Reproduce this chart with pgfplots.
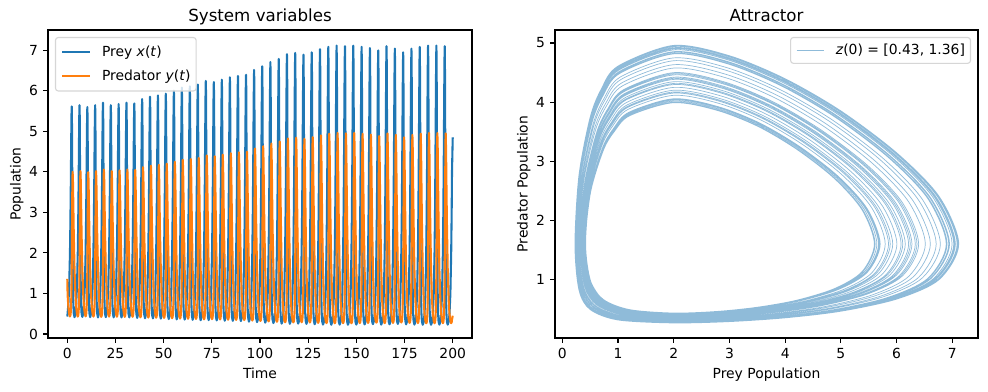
\documentclass[border=0pt]{standalone}
\usepackage{fontspec}
\setmainfont{DejaVu Sans}
\usepackage{pgfplots}
\usepackage{pgfplotstable}
\pgfplotsset{compat=1.18}
\definecolor{cA}{RGB}{31,119,180}
\definecolor{cB}{RGB}{255,127,14}
\definecolor{cL}{RGB}{143,187,217}
\definecolor{lgedge}{RGB}{214,214,214}
\pgfplotstableread{
t x y
0 0.43 1.36
0.18 0.508 0.969
0.58 0.738 0.658
1.01 1.208 0.488
1.40 2 0.431
1.63 2.782 0.458
1.80 3.515 0.530
1.94 4.218 0.648
2.07 4.896 0.844
2.19 5.391 1.129
2.30 5.615 1.6
2.40 5.391 2.182
2.48 4.891 2.714
2.55 4.218 3.206
2.62 3.515 3.598
2.69 2.782 3.869
2.78 2 4.0
2.94 1.208 3.778
3.03 0.938 3.517
3.14 0.738 3.195
3.37 0.508 2.483
3.76 0.414 1.6
4.23 0.504 0.966
4.63 0.733 0.655
5.06 1.204 0.485
5.45 2 0.428
5.68 2.787 0.455
5.85 3.525 0.527
5.99 4.234 0.644
6.12 4.918 0.841
6.24 5.418 1.126
6.35 5.645 1.6
6.45 5.418 2.187
6.53 4.914 2.723
6.60 4.234 3.219
6.67 3.525 3.614
6.74 2.787 3.887
6.83 2 4.019
6.99 1.204 3.795
7.08 0.933 3.531
7.19 0.733 3.206
7.42 0.504 2.488
7.82 0.42 1.6
8.29 0.51 0.97
8.69 0.74 0.66
9.12 1.21 0.49
9.51 2 0.433
9.74 2.78 0.46
9.91 3.51 0.532
10.05 4.21 0.65
10.18 4.885 0.846
10.30 5.377 1.13
10.41 5.6 1.6
10.51 5.377 2.18
10.59 4.88 2.71
10.66 4.21 3.20
10.73 3.51 3.59
10.80 2.78 3.86
10.89 2 3.99
11.05 1.21 3.77
11.14 0.94 3.51
11.25 0.74 3.19
11.48 0.51 2.48
11.87 0.414 1.6
12.34 0.504 0.966
12.74 0.733 0.655
13.17 1.204 0.485
13.56 2 0.428
13.79 2.787 0.455
13.96 3.525 0.527
14.10 4.234 0.644
14.23 4.918 0.841
14.35 5.418 1.126
14.46 5.645 1.6
14.56 5.418 2.187
14.64 4.914 2.723
14.71 4.234 3.219
14.78 3.525 3.614
14.85 2.787 3.887
14.94 2 4.019
15.10 1.204 3.795
15.19 0.933 3.531
15.30 0.733 3.206
15.53 0.504 2.488
15.93 0.407 1.6
16.40 0.495 0.960
16.80 0.723 0.648
17.23 1.195 0.478
17.62 2 0.421
17.85 2.795 0.448
18.02 3.544 0.519
18.16 4.265 0.637
18.29 4.963 0.834
18.41 5.473 1.121
18.52 5.705 1.6
18.62 5.473 2.195
18.70 4.958 2.739
18.77 4.265 3.245
18.84 3.544 3.646
18.91 2.795 3.924
19.00 2 4.057
19.16 1.195 3.828
19.25 0.923 3.559
19.36 0.723 3.228
19.59 0.495 2.499
20.00 0.414 1.6
20.47 0.504 0.966
20.87 0.733 0.655
21.30 1.204 0.485
21.69 2 0.428
21.92 2.787 0.455
22.09 3.525 0.527
22.23 4.234 0.644
22.36 4.918 0.841
22.48 5.418 1.126
22.59 5.645 1.6
22.69 5.418 2.187
22.77 4.914 2.723
22.84 4.234 3.219
22.91 3.525 3.614
22.98 2.787 3.887
23.07 2 4.019
23.23 1.204 3.795
23.32 0.933 3.531
23.43 0.733 3.206
23.66 0.504 2.488
24.06 0.410 1.6
24.53 0.50 0.963
24.93 0.728 0.652
25.36 1.20 0.481
25.75 2 0.425
25.98 2.791 0.451
26.15 3.535 0.523
26.29 4.25 0.641
26.42 4.941 0.837
26.54 5.446 1.124
26.65 5.675 1.6
26.75 5.446 2.191
26.83 4.936 2.731
26.90 4.25 3.232
26.97 3.535 3.630
27.04 2.791 3.906
27.13 2 4.038
27.29 1.20 3.812
27.38 0.928 3.545
27.49 0.728 3.217
27.72 0.50 2.494
28.12 0.407 1.6
28.59 0.495 0.960
28.99 0.723 0.648
29.42 1.195 0.478
29.81 2 0.421
30.04 2.795 0.448
30.21 3.544 0.519
30.35 4.265 0.637
30.48 4.963 0.834
30.60 5.473 1.121
30.71 5.705 1.6
30.81 5.473 2.195
30.89 4.958 2.739
30.96 4.265 3.245
31.03 3.544 3.646
31.10 2.795 3.924
31.19 2 4.057
31.35 1.195 3.828
31.44 0.923 3.559
31.55 0.723 3.228
31.78 0.495 2.499
32.19 0.409 1.6
32.66 0.497 0.962
33.06 0.726 0.650
33.49 1.197 0.480
33.88 2 0.423
34.11 2.793 0.450
34.28 3.539 0.521
34.42 4.257 0.639
34.55 4.952 0.836
34.67 5.459 1.122
34.78 5.69 1.6
34.88 5.459 2.193
34.96 4.947 2.735
35.03 4.257 3.238
35.10 3.539 3.638
35.17 2.793 3.915
35.26 2 4.048
35.42 1.197 3.820
35.51 0.926 3.552
35.62 0.726 3.222
35.85 0.497 2.496
36.26 0.395 1.6
36.73 0.483 0.952
37.13 0.709 0.639
37.56 1.183 0.468
37.95 2 0.411
38.18 2.809 0.438
38.35 3.574 0.509
38.49 4.313 0.626
38.62 5.030 0.824
38.74 5.555 1.113
38.85 5.795 1.6
38.95 5.555 2.209
39.03 5.026 2.765
39.10 4.313 3.283
39.17 3.574 3.693
39.24 2.809 3.979
39.33 2 4.115
39.49 1.183 3.878
39.58 0.909 3.601
39.69 0.709 3.260
39.92 0.483 2.515
40.34 0.388 1.6
40.81 0.474 0.946
41.21 0.699 0.632
41.64 1.174 0.461
42.03 2 0.405
42.26 2.817 0.431
42.43 3.593 0.502
42.57 4.344 0.619
42.70 5.075 0.817
42.82 5.610 1.108
42.93 5.855 1.6
43.03 5.610 2.217
43.11 5.070 2.781
43.18 4.344 3.309
43.25 3.593 3.725
43.32 2.817 4.016
43.41 2 4.153
43.57 1.174 3.911
43.66 0.899 3.629
43.77 0.699 3.282
44.00 0.474 2.526
44.44 0.384 1.6
44.91 0.470 0.943
45.31 0.694 0.629
45.74 1.170 0.457
46.13 2 0.401
46.36 2.822 0.428
46.53 3.603 0.498
46.67 4.36 0.615
46.80 5.097 0.813
46.92 5.638 1.105
47.03 5.885 1.6
47.13 5.638 2.222
47.21 5.093 2.790
47.28 4.36 3.322
47.35 3.603 3.741
47.42 2.822 4.034
47.51 2 4.172
47.67 1.170 3.928
47.76 0.894 3.643
47.87 0.694 3.293
48.10 0.470 2.531
48.54 0.378 1.6
49.01 0.464 0.939
49.41 0.687 0.624
49.84 1.164 0.452
50.23 2 0.396
50.46 2.828 0.422
50.63 3.618 0.493
50.77 4.384 0.610
50.90 5.130 0.808
51.02 5.679 1.101
51.13 5.93 1.6
51.23 5.679 2.228
51.31 5.126 2.802
51.38 4.384 3.341
51.45 3.618 3.765
51.52 2.828 4.061
51.61 2 4.201
51.77 1.164 3.953
51.86 0.887 3.664
51.97 0.687 3.309
52.20 0.464 2.539
52.65 0.368 1.6
53.14 0.453 0.932
53.55 0.675 0.615
53.99 1.153 0.443
54.40 2 0.388
54.64 2.839 0.414
54.81 3.642 0.484
54.95 4.423 0.600
55.09 5.186 0.799
55.21 5.748 1.095
55.33 6.005 1.6
55.43 5.748 2.239
55.51 5.182 2.823
55.58 4.423 3.373
55.65 3.642 3.805
55.73 2.839 4.107
55.82 2 4.249
55.99 1.153 3.994
56.09 0.875 3.699
56.20 0.675 3.336
56.44 0.453 2.553
56.77 0.359 1.6
57.26 0.443 0.925
57.67 0.663 0.607
58.11 1.143 0.435
58.52 2 0.380
58.76 2.850 0.405
58.93 3.667 0.475
59.07 4.463 0.591
59.21 5.242 0.791
59.33 5.816 1.088
59.45 6.08 1.6
59.55 5.816 2.250
59.63 5.238 2.844
59.70 4.463 3.405
59.77 3.667 3.844
59.85 2.850 4.153
59.94 2 4.297
60.11 1.143 4.036
60.21 0.863 3.734
60.32 0.663 3.363
60.56 0.443 2.566
60.91 0.355 1.6
61.40 0.439 0.922
61.81 0.658 0.604
62.25 1.139 0.431
62.66 2 0.376
62.90 2.855 0.402
63.07 3.677 0.471
63.21 4.479 0.587
63.35 5.264 0.787
63.47 5.844 1.086
63.59 6.11 1.6
63.69 5.844 2.255
63.77 5.261 2.853
63.84 4.479 3.418
63.91 3.677 3.860
63.99 2.855 4.171
64.08 2 4.316
64.25 1.139 4.052
64.35 0.858 3.748
64.46 0.658 3.374
64.70 0.439 2.572
65.05 0.349 1.6
65.54 0.432 0.918
65.95 0.651 0.599
66.39 1.132 0.426
66.80 2 0.371
67.04 2.861 0.397
67.21 3.691 0.466
67.35 4.502 0.582
67.49 5.298 0.782
67.61 5.885 1.082
67.73 6.155 1.6
67.83 5.885 2.261
67.91 5.294 2.865
67.98 4.502 3.437
68.05 3.691 3.884
68.13 2.861 4.199
68.22 2 4.345
68.39 1.132 4.077
68.49 0.851 3.769
68.60 0.651 3.390
68.84 0.432 2.580
69.20 0.338 1.6
69.69 0.420 0.910
70.10 0.637 0.589
70.54 1.120 0.416
70.95 2 0.361
71.19 2.875 0.386
71.36 3.721 0.455
71.50 4.550 0.571
71.64 5.364 0.772
71.76 5.967 1.074
71.88 6.245 1.6
71.98 5.967 2.275
72.06 5.362 2.891
72.13 4.550 3.475
72.20 3.721 3.932
72.28 2.875 4.253
72.37 2 4.403
72.54 1.120 4.127
72.64 0.837 3.811
72.75 0.637 3.422
72.99 0.420 2.596
73.36 0.342 1.6
73.85 0.424 0.913
74.26 0.642 0.592
74.70 1.124 0.419
75.11 2 0.365
75.35 2.870 0.390
75.52 3.711 0.459
75.66 4.534 0.575
75.80 5.342 0.775
75.92 5.940 1.077
76.04 6.215 1.6
76.14 5.940 2.270
76.22 5.339 2.882
76.29 4.534 3.462
76.36 3.711 3.916
76.44 2.870 4.235
76.53 2 4.384
76.70 1.124 4.110
76.80 0.842 3.797
76.91 0.642 3.411
77.15 0.424 2.591
77.52 0.334 1.6
78.01 0.416 0.907
78.42 0.632 0.586
78.86 1.116 0.412
79.27 2 0.358
79.51 2.879 0.383
79.68 3.731 0.451
79.82 4.566 0.567
79.96 5.387 0.768
80.08 5.995 1.072
80.20 6.275 1.6
80.30 5.995 2.279
80.38 5.384 2.899
80.45 4.566 3.488
80.52 3.731 3.948
80.60 2.879 4.272
80.69 2 4.422
80.86 1.116 4.144
80.96 0.832 3.825
81.07 0.632 3.433
81.31 0.416 2.602
81.70 0.326 1.6
82.19 0.407 0.901
82.60 0.622 0.579
83.04 1.107 0.405
83.45 2 0.351
83.69 2.888 0.376
83.86 3.750 0.444
84.00 4.597 0.560
84.14 5.431 0.761
84.26 6.050 1.066
84.38 6.335 1.6
84.48 6.050 2.288
84.56 5.429 2.916
84.63 4.597 3.514
84.70 3.750 3.980
84.78 2.888 4.308
84.87 2 4.460
85.04 1.107 4.177
85.14 0.822 3.853
85.25 0.622 3.455
85.49 0.407 2.612
85.88 0.323 1.6
86.37 0.403 0.899
86.78 0.618 0.576
87.22 1.103 0.402
87.63 2 0.348
87.87 2.892 0.373
88.04 3.760 0.441
88.18 4.613 0.556
88.32 5.454 0.758
88.44 6.077 1.064
88.56 6.365 1.6
88.66 6.077 2.292
88.74 5.451 2.924
88.81 4.613 3.526
88.88 3.760 3.995
88.96 2.892 4.327
89.05 2 4.480
89.22 1.103 4.193
89.32 0.818 3.867
89.43 0.618 3.465
89.67 0.403 2.618
90.07 0.319 1.6
90.56 0.399 0.896
90.97 0.613 0.573
91.41 1.099 0.398
91.82 2 0.344
92.06 2.897 0.369
92.23 3.770 0.437
92.37 4.629 0.552
92.51 5.476 0.754
92.63 6.105 1.061
92.75 6.395 1.6
92.85 6.105 2.297
92.93 5.474 2.933
93.00 4.629 3.539
93.07 3.770 4.011
93.15 2.897 4.345
93.24 2 4.499
93.41 1.099 4.210
93.51 0.813 3.881
93.62 0.613 3.476
93.86 0.399 2.623
94.26 0.303 1.6
94.75 0.382 0.885
95.16 0.594 0.559
95.60 1.082 0.384
96.01 2 0.331
96.25 2.914 0.356
96.42 3.809 0.423
96.56 4.692 0.538
96.70 5.565 0.740
96.82 6.215 1.051
96.94 6.515 1.6
97.04 6.215 2.314
97.12 5.563 2.966
97.19 4.692 3.590
97.26 3.809 4.075
97.34 2.914 4.418
97.43 2 4.576
97.60 1.082 4.276
97.70 0.794 3.937
97.81 0.594 3.519
98.05 0.382 2.645
98.47 0.292 1.6
98.96 0.369 0.876
99.37 0.579 0.549
99.81 1.069 0.374
100.22 2 0.321
100.46 2.927 0.345
100.63 3.838 0.412
100.77 4.739 0.527
100.91 5.632 0.730
101.03 6.297 1.043
101.15 6.605 1.6
101.25 6.297 2.327
101.33 5.630 2.991
101.40 4.739 3.629
101.47 3.838 4.123
101.55 2.927 4.473
101.64 2 4.633
101.81 1.069 4.326
101.91 0.779 3.979
102.02 0.579 3.552
102.26 0.369 2.661
102.71 0.279 1.6
103.20 0.355 0.866
103.61 0.562 0.538
104.05 1.055 0.362
104.46 2 0.309
104.70 2.943 0.333
104.87 3.873 0.400
105.01 4.795 0.514
105.15 5.710 0.718
105.27 6.393 1.034
105.39 6.71 1.6
105.49 6.393 2.343
105.57 5.709 3.021
105.64 4.795 3.674
105.71 3.873 4.178
105.79 2.943 4.537
105.88 2 4.700
106.05 1.055 4.384
106.15 0.762 4.028
106.26 0.562 3.590
106.50 0.355 2.680
106.96 0.269 1.6
107.46 0.344 0.859
107.89 0.550 0.530
108.34 1.044 0.353
108.76 2 0.301
109.01 2.954 0.325
109.18 3.897 0.391
109.33 4.834 0.505
109.47 5.766 0.709
109.60 6.462 1.027
109.72 6.785 1.6
109.82 6.462 2.354
109.91 5.765 3.042
109.98 4.834 3.706
110.05 3.897 4.218
110.13 2.954 4.583
110.23 2 4.748
110.40 1.044 4.426
110.50 0.750 4.063
110.61 0.550 3.617
110.86 0.344 2.693
111.22 0.254 1.6
111.72 0.327 0.848
112.15 0.531 0.516
112.60 1.027 0.339
113.02 2 0.288
113.27 2.971 0.311
113.44 3.936 0.376
113.59 4.897 0.490
113.73 5.855 0.696
113.86 6.572 1.017
113.98 6.905 1.6
114.08 6.572 2.371
114.17 5.854 3.075
114.24 4.897 3.757
114.31 3.936 4.282
114.39 2.971 4.656
114.49 2 4.825
114.66 1.027 4.492
114.76 0.731 4.119
114.87 0.531 3.660
115.12 0.327 2.715
115.50 0.250 1.6
116.00 0.323 0.845
116.43 0.526 0.513
116.88 1.023 0.336
117.30 2 0.284
117.55 2.976 0.308
117.72 3.946 0.373
117.87 4.913 0.486
118.01 5.877 0.692
118.14 6.599 1.014
118.26 6.935 1.6
118.36 6.599 2.376
118.45 5.877 3.084
118.52 4.913 3.770
118.59 3.946 4.298
118.67 2.976 4.674
118.77 2 4.844
118.94 1.023 4.509
119.04 0.726 4.133
119.15 0.526 3.671
119.40 0.323 2.720
119.79 0.256 1.6
120.29 0.329 0.850
120.72 0.534 0.518
121.17 1.029 0.341
121.59 2 0.289
121.84 2.969 0.313
122.01 3.931 0.378
122.16 4.889 0.492
122.30 5.844 0.697
122.43 6.558 1.018
122.55 6.89 1.6
122.65 6.558 2.369
122.74 5.843 3.071
122.81 4.889 3.750
122.88 3.931 4.274
122.96 2.969 4.647
123.06 2 4.816
123.23 1.029 4.484
123.33 0.734 4.112
123.44 0.534 3.654
123.69 0.329 2.712
124.08 0.248 1.6
124.58 0.321 0.844
125.01 0.524 0.512
125.46 1.021 0.334
125.88 2 0.283
126.13 2.978 0.306
126.30 3.951 0.371
126.45 4.921 0.484
126.59 5.889 0.690
126.72 6.613 1.013
126.84 6.95 1.6
126.94 6.613 2.378
127.03 5.888 3.088
127.10 4.921 3.776
127.17 3.951 4.306
127.25 2.978 4.684
127.35 2 4.854
127.52 1.021 4.517
127.62 0.724 4.140
127.73 0.524 3.676
127.98 0.321 2.723
128.37 0.239 1.6
128.87 0.311 0.837
129.30 0.512 0.503
129.75 1.011 0.326
130.17 2 0.274
130.42 2.989 0.298
130.59 3.976 0.362
130.74 4.961 0.475
130.88 5.944 0.682
131.01 6.681 1.007
131.13 7.025 1.6
131.23 6.681 2.389
131.32 5.944 3.109
131.39 4.961 3.808
131.46 3.976 4.345
131.54 2.989 4.729
131.64 2 4.902
131.81 1.011 4.559
131.91 0.712 4.175
132.02 0.512 3.703
132.27 0.311 2.737
132.68 0.231 1.6
133.18 0.302 0.831
133.61 0.502 0.497
134.06 1.002 0.319
134.48 2 0.268
134.73 2.998 0.291
134.90 3.995 0.355
135.05 4.992 0.468
135.19 5.989 0.675
135.32 6.736 1.001
135.44 7.085 1.6
135.54 6.736 2.398
135.63 5.989 3.126
135.70 4.992 3.834
135.77 3.995 4.377
135.85 2.998 4.766
135.95 2 4.940
136.12 1.002 4.592
136.22 0.702 4.203
136.33 0.502 3.725
136.58 0.302 2.747
136.99 0.227 1.6
137.49 0.298 0.829
137.92 0.498 0.493
138.37 0.998 0.315
138.79 2 0.264
139.04 3.002 0.287
139.21 4.005 0.351
139.36 5.008 0.464
139.50 6.011 0.671
139.63 6.764 0.999
139.75 7.115 1.6
139.85 6.764 2.402
139.94 6.011 3.134
140.01 5.008 3.846
140.08 4.005 4.393
140.16 3.002 4.784
140.26 2 4.960
140.43 0.998 4.608
140.53 0.698 4.217
140.64 0.498 3.735
140.89 0.298 2.753
141.32 0.229 1.6
141.82 0.30 0.83
142.25 0.50 0.495
142.70 1.0 0.317
143.12 2 0.266
143.37 3.0 0.289
143.54 4.0 0.353
143.69 5.0 0.466
143.83 6.0 0.673
143.96 6.75 1.0
144.08 7.1 1.6
144.18 6.75 2.40
144.27 6.0 3.13
144.34 5.0 3.84
144.41 4.0 4.385
144.49 3.0 4.775
144.59 2 4.95
144.76 1.0 4.60
144.86 0.70 4.21
144.97 0.50 3.73
145.22 0.30 2.75
145.64 0.227 1.6
146.14 0.298 0.829
146.57 0.498 0.493
147.02 0.998 0.315
147.44 2 0.264
147.69 3.002 0.287
147.86 4.005 0.351
148.01 5.008 0.464
148.15 6.011 0.671
148.28 6.764 0.999
148.40 7.115 1.6
148.50 6.764 2.402
148.59 6.011 3.134
148.66 5.008 3.846
148.73 4.005 4.393
148.81 3.002 4.784
148.91 2 4.960
149.08 0.998 4.608
149.18 0.698 4.217
149.29 0.498 3.735
149.54 0.298 2.753
149.96 0.231 1.6
150.46 0.302 0.831
150.89 0.502 0.497
151.34 1.002 0.319
151.76 2 0.268
152.01 2.998 0.291
152.18 3.995 0.355
152.33 4.992 0.468
152.47 5.989 0.675
152.60 6.736 1.001
152.72 7.085 1.6
152.82 6.736 2.398
152.91 5.989 3.126
152.98 4.992 3.834
153.05 3.995 4.377
153.13 2.998 4.766
153.23 2 4.940
153.40 1.002 4.592
153.50 0.702 4.203
153.61 0.502 3.725
153.86 0.302 2.747
154.28 0.235 1.6
154.78 0.306 0.834
155.21 0.507 0.500
155.66 1.006 0.322
156.08 2 0.271
156.33 2.993 0.294
156.50 3.985 0.358
156.65 4.976 0.472
156.79 5.967 0.678
156.92 6.709 1.004
157.04 7.055 1.6
157.14 6.709 2.393
157.23 5.966 3.117
157.30 4.976 3.821
157.37 3.985 4.361
157.45 2.993 4.748
157.55 2 4.921
157.72 1.006 4.575
157.82 0.707 4.189
157.93 0.507 3.714
158.18 0.306 2.742
158.59 0.242 1.6
159.09 0.315 0.840
159.52 0.517 0.507
159.97 1.015 0.329
160.39 2 0.278
160.64 2.985 0.301
160.81 3.966 0.366
160.96 4.945 0.479
161.10 5.922 0.685
161.23 6.654 1.009
161.35 6.995 1.6
161.45 6.654 2.385
161.54 5.922 3.101
161.61 4.945 3.795
161.68 3.966 4.329
161.76 2.985 4.711
161.86 2 4.883
162.03 1.015 4.542
162.13 0.717 4.161
162.24 0.517 3.692
162.49 0.315 2.731
162.89 0.229 1.6
163.39 0.30 0.83
163.82 0.50 0.495
164.27 1.0 0.317
164.69 2 0.266
164.94 3.0 0.289
165.11 4.0 0.353
165.26 5.0 0.466
165.40 6.0 0.673
165.53 6.75 1.0
165.65 7.1 1.6
165.75 6.75 2.40
165.84 6.0 3.13
165.91 5.0 3.84
165.98 4.0 4.385
166.06 3.0 4.775
166.16 2 4.95
166.33 1.0 4.60
166.43 0.70 4.21
166.54 0.50 3.73
166.79 0.30 2.75
167.21 0.237 1.6
167.71 0.308 0.836
168.14 0.510 0.502
168.59 1.008 0.324
169.01 2 0.273
169.26 2.991 0.296
169.43 3.980 0.360
169.58 4.968 0.473
169.72 5.955 0.680
169.85 6.695 1.005
169.97 7.04 1.6
170.07 6.695 2.391
170.16 5.955 3.113
170.23 4.968 3.814
170.30 3.980 4.353
170.38 2.991 4.738
170.48 2 4.912
170.65 1.008 4.567
170.75 0.710 4.182
170.86 0.510 3.708
171.11 0.308 2.739
171.52 0.248 1.6
172.02 0.321 0.844
172.45 0.524 0.512
172.90 1.021 0.334
173.32 2 0.283
173.57 2.978 0.306
173.74 3.951 0.371
173.89 4.921 0.484
174.03 5.889 0.690
174.16 6.613 1.013
174.28 6.95 1.6
174.38 6.613 2.378
174.47 5.888 3.088
174.54 4.921 3.776
174.61 3.951 4.306
174.69 2.978 4.684
174.79 2 4.854
174.96 1.021 4.517
175.06 0.724 4.140
175.17 0.524 3.676
175.42 0.321 2.723
175.81 0.237 1.6
176.31 0.308 0.836
176.74 0.510 0.502
177.19 1.008 0.324
177.61 2 0.273
177.86 2.991 0.296
178.03 3.980 0.360
178.18 4.968 0.473
178.32 5.955 0.680
178.45 6.695 1.005
178.57 7.04 1.6
178.67 6.695 2.391
178.76 5.955 3.113
178.83 4.968 3.814
178.90 3.980 4.353
178.98 2.991 4.738
179.08 2 4.912
179.25 1.008 4.567
179.35 0.710 4.182
179.46 0.510 3.708
179.71 0.308 2.739
180.12 0.231 1.6
180.62 0.302 0.831
181.05 0.502 0.497
181.50 1.002 0.319
181.92 2 0.268
182.17 2.998 0.291
182.34 3.995 0.355
182.49 4.992 0.468
182.63 5.989 0.675
182.76 6.736 1.001
182.88 7.085 1.6
182.98 6.736 2.398
183.07 5.989 3.126
183.14 4.992 3.834
183.21 3.995 4.377
183.29 2.998 4.766
183.39 2 4.940
183.56 1.002 4.592
183.66 0.702 4.203
183.77 0.502 3.725
184.02 0.302 2.747
184.44 0.227 1.6
184.94 0.298 0.829
185.37 0.498 0.493
185.82 0.998 0.315
186.24 2 0.264
186.49 3.002 0.287
186.66 4.005 0.351
186.81 5.008 0.464
186.95 6.011 0.671
187.08 6.764 0.999
187.20 7.115 1.6
187.30 6.764 2.402
187.39 6.011 3.134
187.46 5.008 3.846
187.53 4.005 4.393
187.61 3.002 4.784
187.71 2 4.960
187.88 0.998 4.608
187.98 0.698 4.217
188.09 0.498 3.735
188.34 0.298 2.753
188.76 0.227 1.6
189.26 0.298 0.829
189.69 0.498 0.493
190.14 0.998 0.315
190.56 2 0.264
190.81 3.002 0.287
190.98 4.005 0.351
191.13 5.008 0.464
191.27 6.011 0.671
191.40 6.764 0.999
191.52 7.115 1.6
191.62 6.764 2.402
191.71 6.011 3.134
191.78 5.008 3.846
191.85 4.005 4.393
191.93 3.002 4.784
192.03 2 4.960
192.20 0.998 4.608
192.30 0.698 4.217
192.41 0.498 3.735
192.66 0.298 2.753
193.08 0.229 1.6
193.58 0.30 0.83
194.01 0.50 0.495
194.46 1.0 0.317
194.88 2 0.266
195.13 3.0 0.289
195.30 4.0 0.353
195.45 5.0 0.466
195.59 6.0 0.673
195.72 6.75 1.0
195.84 7.1 1.6
195.94 6.75 2.40
196.03 6.0 3.13
196.10 5.0 3.84
196.17 4.0 4.385
196.25 3.0 4.775
196.35 2 4.95
196.52 1.0 4.60
196.62 0.70 4.21
196.73 0.50 3.73
196.98 0.30 2.75
197.40 0.229 1.6
197.90 0.30 0.83
198.33 0.50 0.495
198.78 1.0 0.317
199.20 2 0.266
199.45 3.0 0.289
199.62 4.0 0.353
200 4.85 0.45
}\traj
\pgfplotsset{
  mpl/.style={
    scale only axis, height=221.76pt,
    anchor=south west,
    axis line style={line width=0.8pt, black},
    tick align=outside, major tick length=3.5pt,
    every tick/.style={line width=0.8pt, black},
    xtick pos=left, ytick pos=left,
    /pgf/number format/assume math mode=true,
    tick label style={font=\fontsize{10}{12}\selectfont, inner sep=0pt},
    xticklabel style={anchor=north, yshift=-3.8pt},
    yticklabel style={anchor=east, xshift=-3.5pt},
    every axis title/.style={at={(axis description cs:0.5,1)}, anchor=base, yshift=6pt, font=\fontsize{12}{14}\selectfont},
    every axis x label/.style={at={(axis description cs:0.5,0)}, anchor=north, inner sep=0pt, yshift=-21.3pt, font=\fontsize{10}{12}\selectfont},
    every axis y label/.style={at={(axis description cs:0,0.5)}, xshift=-17.4pt, rotate=90, anchor=south, inner sep=0pt, font=\fontsize{10}{12}\selectfont},
    legend image code/.code={\draw[#1] (0pt,0pt) -- (20pt,0pt);},
    legend cell align=left,
  },
  lg/.style={legend style={draw=lgedge, line width=0.8pt, rounded corners=2pt, fill=white, fill opacity=0.8, text opacity=1,
    font=\fontsize{10}{12}\selectfont, inner xsep=4pt,
    nodes={inner sep=0pt, text height=8.5pt, text depth=2.5pt},
    /tikz/every odd column/.append style={column sep=8pt}}}
}
\begin{document}
\begin{tikzpicture}
\useasboundingbox (0,0) rectangle (711.36pt,281.52pt);
\begin{axis}[mpl, lg, width=305.28pt, at={(34.56pt,38.16pt)},
  xmin=-10, xmax=210, ymin=-0.1, ymax=7.5,
  xtick={0,25,...,200}, ytick={0,1,...,7},
  title={System variables}, xlabel={Time}, ylabel={Population},
  legend style={at={(axis description cs:0,1)}, anchor=north west, xshift=5pt, yshift=-5pt, inner ysep=5pt, row sep=6.5pt}]
\addplot[cA, line width=1.5pt, line join=round] table[x=t,y=x]{\traj};
\addlegendentry{Prey \textit{x}(\textit{t})}
\addplot[cB, line width=1.5pt, line join=round] table[x=t,y=y]{\traj};
\addlegendentry{Predator \textit{y}(\textit{t})}
\end{axis}
\begin{axis}[mpl, lg, width=304.56pt, at={(399.6pt,38.16pt)},
  xmin=-0.13, xmax=7.46, ymin=0.01, ymax=5.22,
  xtick={0,1,...,7}, ytick={1,2,...,5},
  title={Attractor}, xlabel={Prey Population}, ylabel={Predator Population},
  legend style={at={(axis description cs:1,1)}, anchor=north east, xshift=-5pt, yshift=-5pt, inner ysep=3.8pt}]
\addplot[cL, line width=0.5pt, smooth] table[x=x,y=y]{\traj};
\addlegendentry{\textit{z}(0) = [0.43, 1.36]}
\end{axis}
\end{tikzpicture}
\end{document}
